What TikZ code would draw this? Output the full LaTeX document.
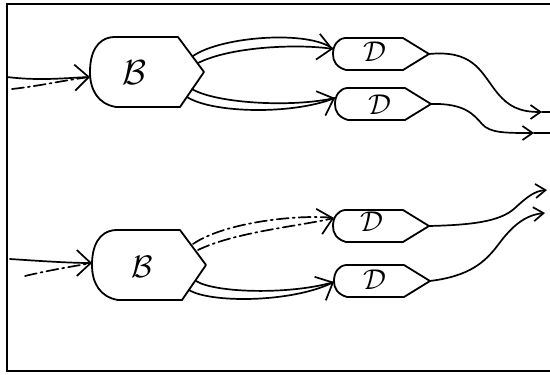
\documentclass[tikz,border=0pt]{standalone}
\usepackage{graphicx}
\usetikzlibrary{arrows.meta}
\newcommand\biglabel[2]{\scalebox{#1}{\Huge$\mathcal{#2}$}}
\begin{document}
\begin{tikzpicture}[x=1pt,y=-1pt,
  wire/.style={line width=1.7pt,line cap=round,line join=round},
  gate/.style={line width=1.8pt,line join=round,fill=white},
  dashdot/.style={dash pattern=on 12pt off 4pt on 2pt off 4pt},
  bigtip/.style={-{Straight Barb[length=14pt,width=26pt,line width=1.7pt]}},
  smalltip/.style={-{Straight Barb[length=10pt,width=14pt,line width=1.7pt]}},
  bgate/.pic={
    \draw[gate] (24,-35) -- (88,-35) -- (114,0) -- (90,35) -- (26,35)
      .. controls (8,32) and (0,18) .. (0,0)
      .. controls (0,-18) and (6,-34) .. (24,-35) -- cycle;
  },
  dgate/.pic={
    \draw[gate] (12,-16) -- (70,-16) -- (96,0) -- (70,16) -- (13,16)
      .. controls (3,13) and (0,7) .. (0,0)
      .. controls (0,-8) and (4,-15) .. (12,-16) -- cycle;
  },
  glabel/.style={inner sep=0pt}
]
\useasboundingbox (0,0) rectangle (550,375);

% border
\draw[line width=2pt] (550,4) -- (7,4) -- (7,371) -- (550,371);

% gates
\pic at (90,72) {bgate};
\pic at (92,265) {bgate};
\pic at (333,54) {dgate};
\pic at (335,104) {dgate};
\pic at (333,226) {dgate};
\pic at (334,281) {dgate};

\node[glabel] (B1) at (134,73) {\biglabel{1.4}{B}};
\node[glabel] (B2) at (142,267) {\biglabel{1.25}{B}};
\node[glabel] (D1) at (375,52) {\biglabel{1.15}{D}};
\node[glabel] (D2) at (380,105) {\biglabel{1.15}{D}};
\node[glabel] (D3) at (372,222) {\biglabel{1.15}{D}};
\node[glabel] (D4) at (375,280) {\biglabel{1.15}{D}};

% connection points
\coordinate (b1in) at (90,77);
\coordinate (b2in) at (92,263);
\coordinate (d1in) at (333,49);
\coordinate (d2in) at (335,98);
\coordinate (d3in) at (334,218);
\coordinate (d4in) at (334,282);
\coordinate (d1out) at (429,54);
\coordinate (d2out) at (431,104);
\coordinate (d3out) at (429,226);
\coordinate (d4out) at (430,281);
\coordinate (s1a) at (193,56);
\coordinate (s1b) at (198,63);
\coordinate (s2a) at (192,89);
\coordinate (s2b) at (187,97);
\coordinate (s3a) at (193,244);
\coordinate (s3b) at (198,250);
\coordinate (s4a) at (196,281);
\coordinate (s4b) at (189,290);
\coordinate (i1a) at (7,77);
\coordinate (i1b) at (12,89);
\coordinate (i2a) at (10,259);
\coordinate (i2b) at (25,276);
\coordinate (o1) at (542,112);
\coordinate (o2) at (534,133);
\coordinate (o3) at (547,190);
\coordinate (o4) at (545,213);
\coordinate (e1) at (550,112);
\coordinate (e2) at (550,133);

% upper block inputs
\draw[wire,bigtip] (i1a) .. controls (40,81) and (65,78) .. (b1in);
\draw[wire,dashdot] (i1b) .. controls (40,86) and (65,80) .. (b1in);

% upper block B to D
\draw[wire] (s1a) .. controls (222,36) and (310,30) .. (d1in);
\draw[wire,bigtip] (s1b) .. controls (232,46) and (300,44) .. (d1in);
\draw[wire] (s2a) .. controls (215,103) and (290,108) .. (d2in);
\draw[wire,bigtip] (s2b) .. controls (212,113) and (290,115) .. (d2in);

% upper block outputs
\draw[wire,smalltip] (d1out) .. controls (472,50) and (480,70) .. (495,90)
  .. controls (508,107) and (520,112) .. (o1);
\draw[wire] (o1) -- (e1);
\draw[wire,smalltip] (d2out) .. controls (465,103) and (474,115) .. (482,124)
  .. controls (490,133) and (505,133) .. (o2);
\draw[wire] (o2) -- (e2);

% lower block inputs
\draw[wire,bigtip] (i2a) .. controls (40,261) and (70,263) .. (b2in);
\draw[wire,dashdot] (i2b) .. controls (50,270) and (75,266) .. (b2in);

% lower block B to D
\draw[wire,dashdot] (s3a) .. controls (225,222) and (300,214) .. (d3in);
\draw[wire,dashdot,bigtip] (s3b) .. controls (235,232) and (300,226) .. (d3in);
\draw[wire] (s4a) .. controls (215,293) and (290,295) .. (d4in);
\draw[wire,bigtip] (s4b) .. controls (210,303) and (290,303) .. (d4in);

% lower block outputs
\draw[wire,smalltip] (d3out) .. controls (470,225) and (500,222) .. (515,208)
  .. controls (528,196) and (535,191) .. (o3);
\draw[wire,smalltip] (d4out) .. controls (470,276) and (485,262) .. (498,245)
  .. controls (512,226) and (525,215) .. (o4);
\end{tikzpicture}
\end{document}
